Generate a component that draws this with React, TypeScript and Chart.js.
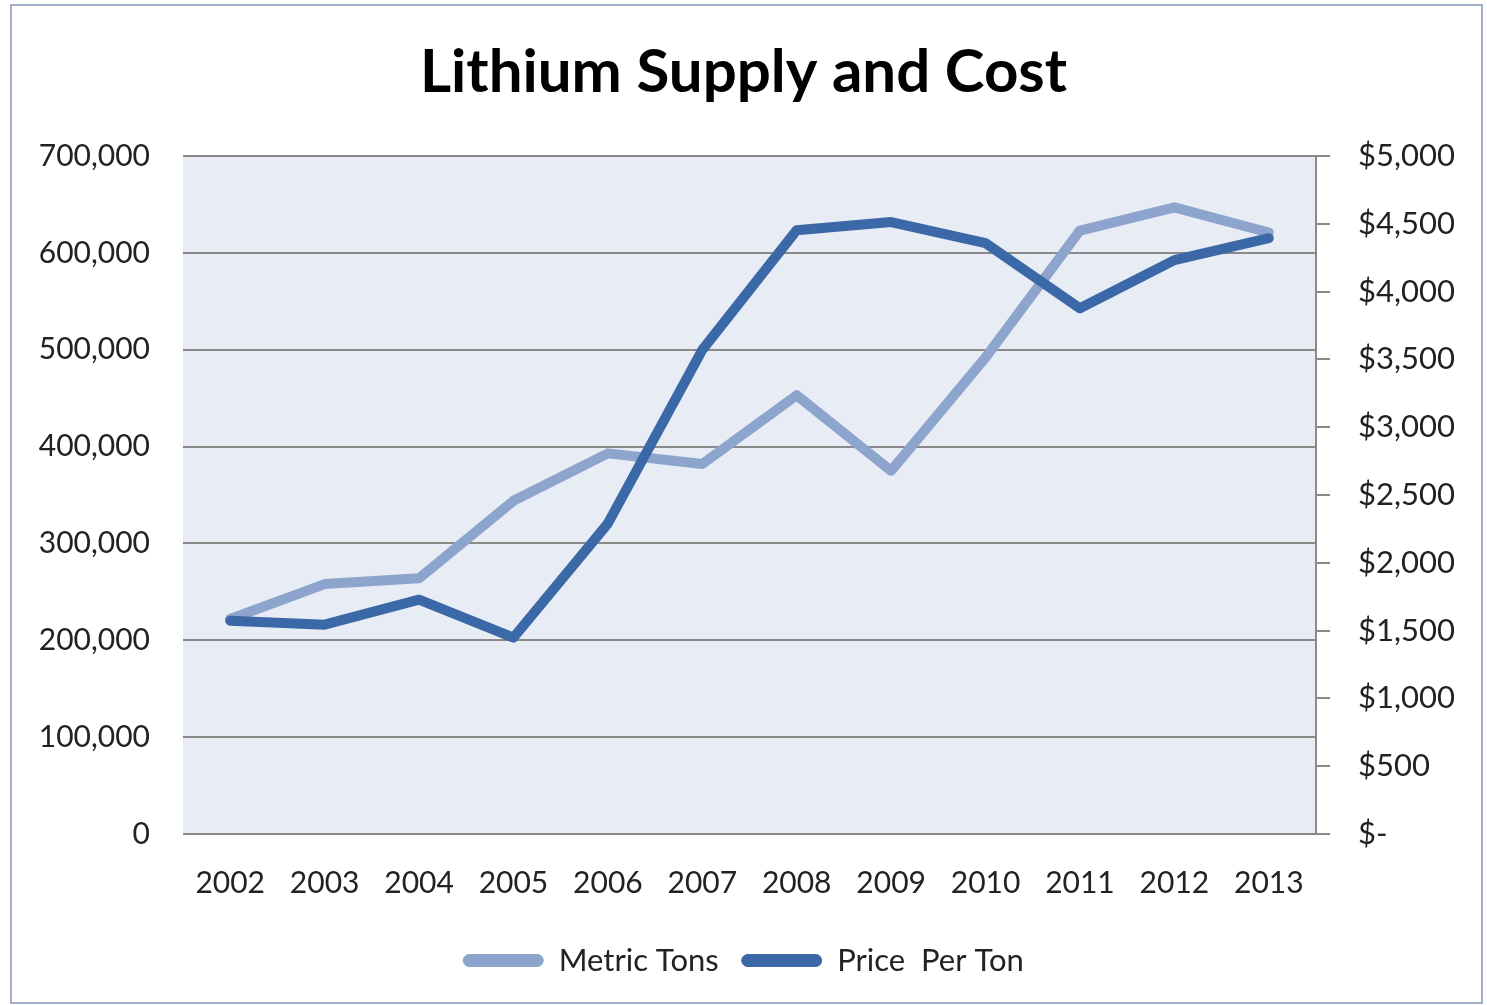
import React, { useEffect, useRef } from "react";
import { Chart, registerables } from "chart.js";

Chart.register(...registerables);

const years = ["2002", "2003", "2004", "2005", "2006", "2007", "2008", "2009", "2010", "2011", "2012", "2013"];
const metricTons = [222000, 258000, 264000, 344000, 393000, 382000, 453000, 375000, 492000, 623000, 647000, 621000];
const pricePerTon = [1573, 1544, 1728, 1448, 2290, 3570, 4453, 4513, 4357, 3877, 4232, 4394];

const leftTickValues = [0, 100000, 200000, 300000, 400000, 500000, 600000, 700000];
const leftTickLabels = ["0", "100,000", "200,000", "300,000", "400,000", "500,000", "600,000", "700,000"];
const rightTickValues = [0, 500, 1000, 1500, 2000, 2500, 3000, 3500, 4000, 4500, 5000];
const rightTickLabels = ["$-", "$500", "$1,000", "$1,500", "$2,000", "$2,500", "$3,000", "$3,500", "$4,000", "$4,500", "$5,000"];

const seriesNames = ["Metric Tons", "Price  Per Ton"];
const lightBlue = "#8da5cd";
const darkBlue = "#3b68a6";
const gridGray = "#8a8a8a";
const FONT = "Lato, 'Open Sans', 'DejaVu Sans', sans-serif";

const backgroundPlugin = {
  id: "bgPlugin",
  beforeDraw(chart: any) {
    const { ctx, chartArea, width, height } = chart;
    ctx.save();
    ctx.fillStyle = "#ffffff";
    ctx.fillRect(0, 0, width, height);
    ctx.fillStyle = "#e8ecf4";
    ctx.fillRect(chartArea.left, chartArea.top, chartArea.right - chartArea.left, chartArea.bottom - chartArea.top);
    ctx.strokeStyle = "#9fb0c8";
    ctx.lineWidth = 2;
    ctx.strokeRect(11, 5, width - 16, height - 7);
    ctx.restore();
  },
};

export default function App() {
  const canvasRef = useRef<HTMLCanvasElement | null>(null);

  useEffect(() => {
    if (!canvasRef.current) return;
    const chart = new Chart(canvasRef.current, {
      type: "line",
      data: {
        labels: years,
        datasets: [
          {
            label: seriesNames[0],
            data: metricTons,
            yAxisID: "y",
            borderColor: lightBlue,
            backgroundColor: lightBlue,
            borderWidth: 10,
            pointRadius: 0,
            borderJoinStyle: "round",
            borderCapStyle: "round",
            order: 2,
          },
          {
            label: seriesNames[1],
            data: pricePerTon,
            yAxisID: "y1",
            borderColor: darkBlue,
            backgroundColor: darkBlue,
            borderWidth: 10,
            pointRadius: 0,
            borderJoinStyle: "round",
            borderCapStyle: "round",
            order: 1,
          },
        ],
      },
      options: {
        responsive: false,
        animation: false,
        layout: { padding: { left: 0, right: 0, top: 0, bottom: 19 } },
        plugins: {
          title: {
            display: true,
            text: "Lithium Supply and Cost",
            color: "#000000",
            font: { family: FONT, size: 60, weight: "bold", lineHeight: 1.2 },
            padding: { top: 37, bottom: 47 },
          },
          legend: {
            display: true,
            position: "bottom",
            labels: {
              color: "#222222",
              font: { family: FONT, size: 31 },
              boxWidth: 80,
              boxHeight: 12,
              useBorderRadius: true,
              borderRadius: 6,
              padding: 23,
              sort: (a: any, b: any) => a.datasetIndex - b.datasetIndex,
              generateLabels: (ch: any) => {
                const items = Chart.defaults.plugins.legend.labels.generateLabels(ch);
                return items.map((it: any) => ({ ...it, lineWidth: 1 }));
              },
            },
          },
          tooltip: { enabled: false },
        },
        scales: {
          x: {
            type: "category",
            offset: true,
            grid: { display: false, drawTicks: false },
            border: { display: false },
            ticks: {
              color: "#222222",
              font: { family: FONT, size: 30 },
              padding: 31,
              maxRotation: 0,
              autoSkip: false,
            },
            afterFit: (s: any) => {
              s.height = 88;
            },
          },
          y: {
            type: "linear",
            position: "left",
            min: 0,
            max: 700000,
            afterBuildTicks: (s: any) => {
              s.ticks = leftTickValues.map((v) => ({ value: v }));
            },
            ticks: {
              color: "#222222",
              font: { family: FONT, size: 30 },
              padding: 33,
              callback: (_v: any, i: number) => leftTickLabels[i],
            },
            grid: { color: gridGray, lineWidth: 2, drawTicks: false },
            border: { display: false },
            afterFit: (s: any) => {
              s.width = 183;
            },
          },
          y1: {
            type: "linear",
            position: "right",
            min: 0,
            max: 5000,
            afterBuildTicks: (s: any) => {
              s.ticks = rightTickValues.map((v) => ({ value: v }));
            },
            ticks: {
              color: "#222222",
              font: { family: FONT, size: 31 },
              padding: 28,
              callback: (_v: any, i: number) => rightTickLabels[i],
            },
            grid: { drawOnChartArea: false, drawTicks: true, tickLength: 14, color: gridGray, lineWidth: 2 },
            border: { display: true, color: gridGray, width: 2 },
            afterFit: (s: any) => {
              s.width = 171;
            },
          },
        },
      },
      plugins: [backgroundPlugin],
    } as any);
    return () => chart.destroy();
  }, []);

  return (
    <div style={{ position: "absolute", left: 0, top: 0, width: 1487, height: 1005, background: "#fff" }}>
      <canvas ref={canvasRef} width={1487} height={1005} style={{ display: "block" }} />
    </div>
  );
}
